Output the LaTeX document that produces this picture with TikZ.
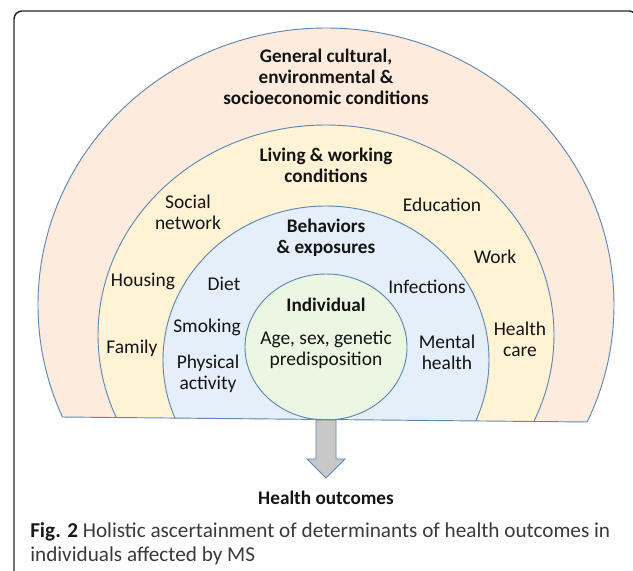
\documentclass[tikz,border=0pt]{standalone}
\usepackage{fontspec}
\setmainfont{Carlito}
\usetikzlibrary{intersections}
\definecolor{peachc}{HTML}{FDEBDE}
\definecolor{yellowc}{HTML}{FFF3D6}
\definecolor{bluec}{HTML}{E4EFF9}
\definecolor{greenc}{HTML}{EBF7E2}
\definecolor{ringc}{HTML}{5E88B0}
\definecolor{arrowc}{HTML}{C8C8C8}
\definecolor{capc}{HTML}{3A3A3A}
\tikzset{
  ring/.style={draw=ringc, line width=0.7pt},
  lab/.style={align=center, inner sep=0pt, text=black!92, font=\fontsize{14.6}{15.6}\selectfont},
  head/.style={lab, font=\fontsize{14.4}{15.6}\selectfont\bfseries},
  frameline/.style={draw=black!85, line width=1.1pt, rounded corners=6pt}
}
\begin{document}
\begin{tikzpicture}[x=0.75pt,y=0.75pt]
\useasboundingbox (0,0) rectangle (633,-571);
\begin{scope}
  \clip (0,0) rectangle (633,-571);
  \draw[frameline] (14,-600) -- (14,-11) -- (637,-11) -- (637,-600);
\end{scope}
\begin{scope}
  \clip (0,0) -- (633,0) -- (633,-422.4) -- (0,-416.4) -- cycle;
  \filldraw[ring, fill=peachc, name path global=outer] (326,-305) ellipse [x radius=288, y radius=277];
  \filldraw[ring, fill=yellowc] (326,-335) ellipse [x radius=228, y radius=210];
  \filldraw[ring, fill=bluec] (326,-360) ellipse [x radius=163, y radius=154];
  \filldraw[ring, fill=greenc] (326,-347) ellipse [x radius=81, y radius=73];
\end{scope}
\path[name path=baseline] (0,-416.4) -- (633,-422.4);
\draw[ring, name intersections={of=outer and baseline, name=bi}] (bi-1) -- (bi-2);
\filldraw[ring, fill=arrowc] (316,-420) -- (316,-459) -- (307,-459) -- (326,-478) -- (345,-459) -- (336,-459) -- (336,-420) -- cycle;
% labels
\node[head] (general) at (326,-77) {General cultural,\\environmental \&\\socioeconomic conditions};
\node[head] (living) at (326,-165) {Living \& working\\conditions};
\node[lab] (social) at (188,-212) {Social\\network};
\node[lab] (education) at (442,-205) {Education};
\node[head] (behav) at (326,-238) {Behaviors\\\& exposures};
\node[lab] (housing) at (143,-281) {Housing};
\node[lab] (work) at (495,-257) {Work};
\node[lab] (diet) at (224,-284) {Diet};
\node[lab] (infect) at (427,-287) {Infections};
\node[head] (indiv) at (326,-305) {Individual};
\node[lab] (smoking) at (207,-327) {Smoking};
\node[lab] (family) at (132,-348) {Family};
\node[lab] (age) at (326,-350) {Age, sex, genetic\\predisposition};
\node[lab] (mental) at (447,-352) {Mental\\health};
\node[lab] (hcare) at (520,-339) {Health\\care};
\node[lab] (phys) at (208,-374) {Physical\\activity};
\node[head] (outcome) at (326,-498) {Health outcomes};
\node[anchor=base west, align=left, inner sep=0pt, text=capc, font=\fontsize{15.9}{18}\selectfont] (caption) at (30,-561)
  {\textbf{\color{black!90}Fig. 2} Holistic ascertainment of determinants of health outcomes in\\individuals affected by MS};
\end{tikzpicture}
\end{document}
